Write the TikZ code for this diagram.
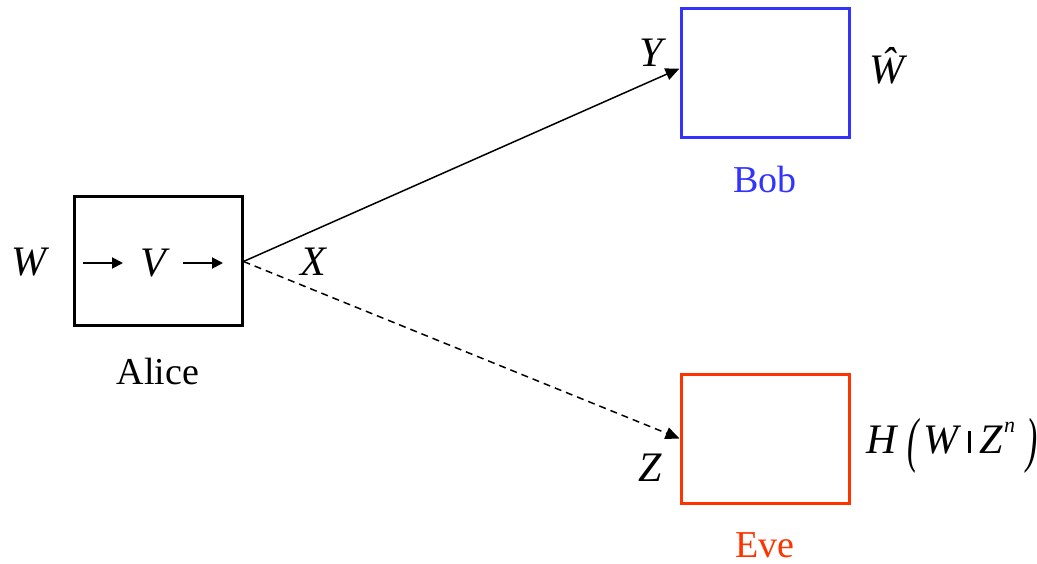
\documentclass[tikz,border=0pt]{standalone}
\usepackage{fontspec}
\setmainfont{Liberation Serif}
\usepackage{graphicx}
\usetikzlibrary{arrows.meta,calc}
\definecolor{bobblue}{RGB}{51,51,255}
\definecolor{evered}{RGB}{255,51,0}
\begin{document}
\begin{tikzpicture}[x=1pt,y=-1pt,
  lbl/.style={inner sep=0pt,font=\fontsize{38}{44}\selectfont},
  var/.style={inner sep=0pt,font=\fontsize{42}{48}\selectfont\itshape},
  blk/.style={draw,line width=3pt,minimum width=168pt,minimum height=129pt,inner sep=0pt},
  link/.style={line width=1.5pt,-{Triangle[length=14pt,width=12pt]}},
  inarr/.style={line width=1.9pt,-{Triangle[length=11pt,width=11pt]}}]
\useasboundingbox (0,0) rectangle (1037,564);
\node[blk] (alice) at (158,261.5) {};
\node[blk,draw=bobblue] (bob) at (765,73) {};
\node[blk,draw=evered] (eve) at (765,438.5) {};
% labels
\node[var] (W) at (29,262) {W};
\node[var] (V) at (153,263) {V};
\node[var] (X) at (313,262) {X};
\node[var] (Y) at (651,53) {Y};
\node[var] (Z) at (650,468) {Z};
\node[var] (What) at (887,66) {\^{W}};
\node[var,anchor=base west] (H) at (866,453) {H\kern 11pt\raisebox{-0.17em}{\scalebox{0.8}[1.45]{(}}\kern 5pt W\kern 9pt\rule{3pt}{22pt}\kern 9pt Z\kern 1pt\raisebox{0.5em}{\fontsize{22}{24}\selectfont n}\kern 11pt\raisebox{-0.17em}{\scalebox{0.8}[1.45]{)}}};
\node[lbl] (alicel) at (158,372) {Alice};
\node[lbl,text=bobblue] (bobl) at (765,180) {Bob};
\node[lbl,text=evered] (evel) at (765,545) {Eve};
% inner arrows
\coordinate (a1) at (83,263);
\coordinate (a2) at (123,263);
\coordinate (b1) at (183,263);
\coordinate (b2) at (223,263);
\draw[inarr] (a1) -- (a2);
\draw[inarr] (b1) -- (b2);
% links
\draw[link] (alice.east) -- ($(bob.west)+(0,-4.5)$);
\draw[link,dashed,dash pattern=on 7pt off 5pt] (alice.east) -- (eve.west);
\end{tikzpicture}
\end{document}
